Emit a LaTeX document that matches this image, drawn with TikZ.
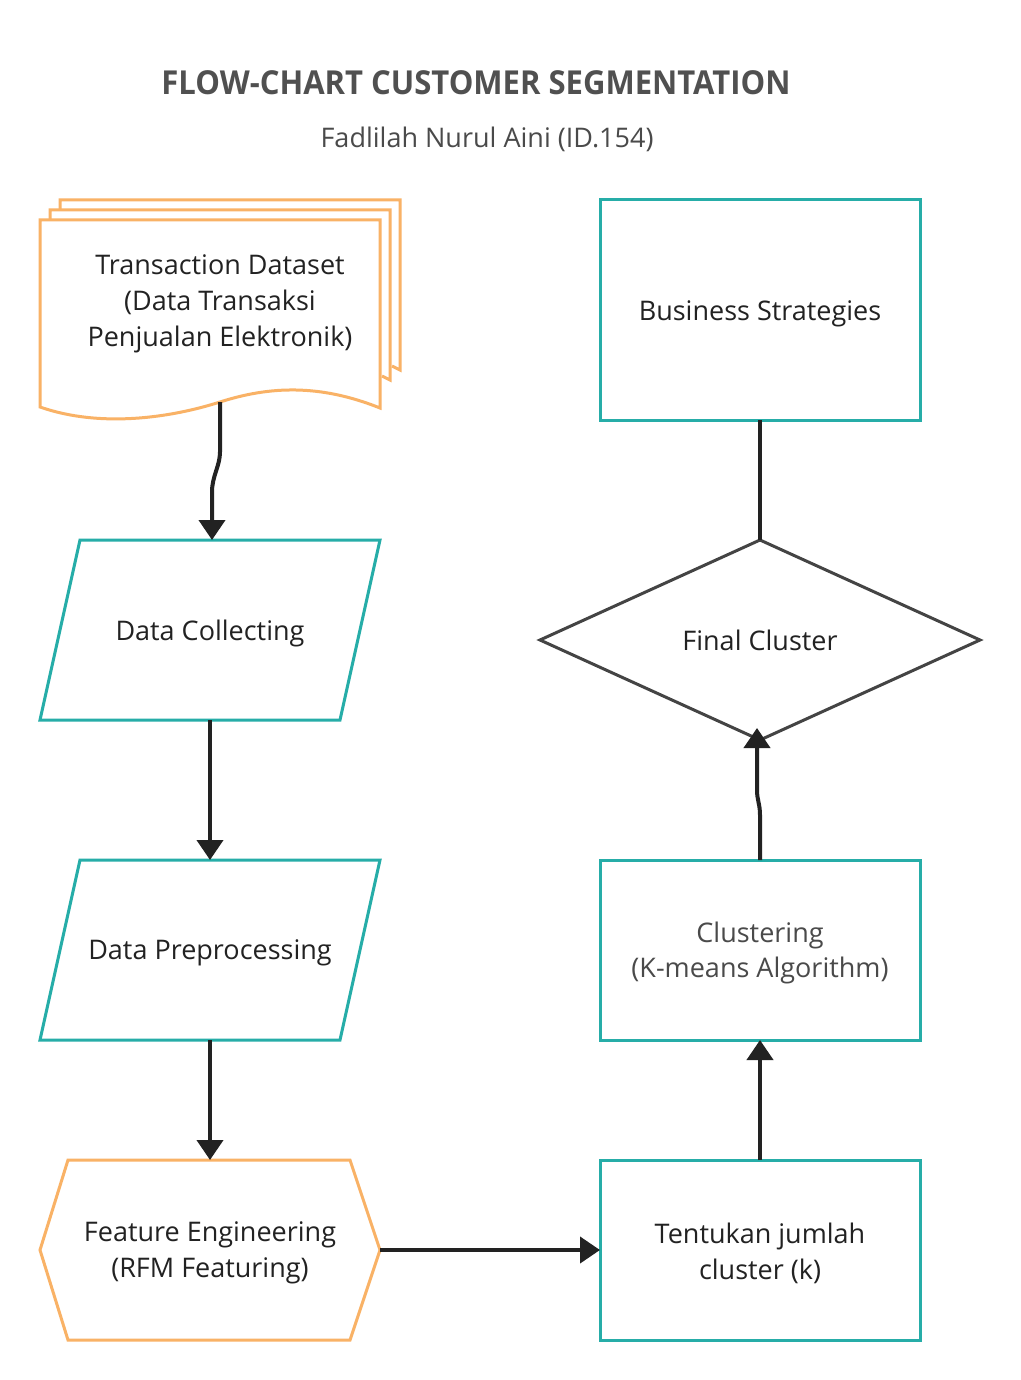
\documentclass[tikz,border=0pt]{standalone}
\usepackage{fontspec}
\setmainfont{Open Sans}
\usetikzlibrary{arrows.meta}
\definecolor{teal1}{RGB}{38,173,168}
\definecolor{orange1}{RGB}{249,178,102}
\definecolor{ink}{RGB}{34,34,34}
\definecolor{grayink}{RGB}{74,74,74}
\definecolor{titlegray}{RGB}{80,80,80}
\definecolor{dgray}{RGB}{68,68,68}
\begin{document}
\begin{tikzpicture}[x=0.5pt,y=-0.5pt,
  tealshape/.style={draw=teal1,line width=1.5pt,line join=miter},
  orangeshape/.style={draw=orange1,line width=1.5pt,line join=miter},
  label/.style={text=ink,font=\fontsize{13.5}{17.9}\selectfont,align=center,inner sep=0pt},
  tealbox/.style={tealshape,rectangle,minimum width=160pt,inner sep=0pt,outer sep=0pt},
  conn/.style={draw=ink,line width=2pt},
  arr/.style={conn,-{Triangle[width=13pt,length=10pt]}}
]
\useasboundingbox (0,0) rectangle (1021,1380);
\fill[white] (0,0) rectangle (1021,1380);

% titles
\node[text=titlegray,font=\fontsize{16.5}{20}\selectfont\bfseries,inner sep=0pt] (title) at (476,83) {\scalebox{0.94}[1]{FLOW-CHART CUSTOMER SEGMENTATION}};
\node[text=grayink,font=\fontsize{13.5}{16}\selectfont,inner sep=0pt] (subtitle) at (487,139) {Fadlilah Nurul Aini (ID.154)};

% document (stacked)
\draw[orangeshape] (60,210) -- (60,200) -- (400,200) -- (400,370) -- (392,366);
\draw[orangeshape] (50,220) -- (50,210) -- (390,210) -- (390,380) -- (382,376);
\draw[orangeshape,fill=white] (40,220) -- (380,220) -- (380,408)
  .. controls (320,384) and (270,386) .. (220,402)
  .. controls (170,418) and (100,428) .. (40,407) -- cycle;
\node[label] (doc) at (220,304) {Transaction Dataset\\(Data Transaksi\\Penjualan Elektronik)};
\coordinate (docb) at (220,402);

% Data Collecting
\draw[tealshape] (80,540) -- (380,540) -- (340,720) -- (40,720) -- cycle;
\node[label] (dc) at (210,633) {Data Collecting};
\coordinate (dct) at (212,540);
\coordinate (dcb) at (210,720);

% Data Preprocessing
\draw[tealshape] (80,860) -- (380,860) -- (340,1040) -- (40,1040) -- cycle;
\node[label] (dp) at (210,953) {Data Preprocessing};
\coordinate (dpt) at (210,860);
\coordinate (dpb) at (210,1040);

% Feature Engineering hexagon
\draw[orangeshape] (68,1160) -- (350,1160) -- (380,1250) -- (350,1340) -- (68,1340) -- (40,1250) -- cycle;
\node[label] (fe) at (210,1253) {Feature Engineering\\(RFM Featuring)};
\coordinate (fet) at (210,1160);
\coordinate (fer) at (380,1250);

% Tentukan
\node[tealbox,minimum height=90pt] (tk) at (760,1250) {};
\node[label] (tktext) at (760,1253) {Tentukan jumlah\\cluster (k)};

% Clustering
\node[tealbox,minimum height=90pt] (cl) at (760,950) {};
\node[label,text=grayink] (cltext) at (760,953) {Clustering\\(K-means Algorithm)};

% Final Cluster diamond
\draw[draw=dgray,line width=1.5pt,line join=miter] (760,540) -- (980,640) -- (760,740) -- (540,640) -- cycle;
\node[label] (fc) at (760,640) {Final Cluster};
\coordinate (fct) at (760,540);
\coordinate (fcb) at (757,728);

% Business Strategies
\node[tealbox,minimum height=110pt] (bs) at (760,310) {};
\node[label] (bstext) at (760,314) {Business Strategies};

% connectors
\draw[arr] (docb) -- (220,452) .. controls (220,466) and (212,476) .. (212,492) -- (dct);
\draw[arr] (dcb) -- (dpt);
\draw[arr] (dpb) -- (fet);
\draw[arr] (fer) -- (tk.west);
\draw[arr] (tk.north) -- (cl.south);
\draw[arr] (cl.north) -- (760,815) .. controls (760,804) and (757,800) .. (757,790) -- (fcb);
\draw[conn] (fct) -- (bs.south);
\end{tikzpicture}
\end{document}
